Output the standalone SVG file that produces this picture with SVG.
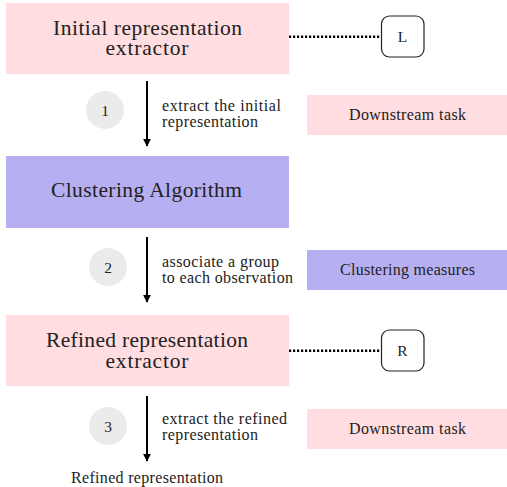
<svg xmlns="http://www.w3.org/2000/svg" width="507" height="487" viewBox="0 0 507 487">
<defs>
<style>
text{font-family:"Liberation Serif","Times New Roman",serif;fill:#222}
.big{font-size:21.5px;text-anchor:middle}
.sm{font-size:16px}
.smc{font-size:16px;text-anchor:middle}
.num{font-size:15.5px;text-anchor:middle}
.pink{fill:#ffdde0}
.purple{fill:#b6aff2}
.circ{fill:#ebebeb}
.rb{fill:#fff;stroke:#222;stroke-width:1.2}
.arrow{stroke:#000;stroke-width:2;fill:none;marker-end:url(#ah)}
.dot{stroke:#000;stroke-width:2.5;stroke-dasharray:2.2 1.8;fill:none}
</style>
<marker id="ah" viewBox="0 0 10 10" refX="9" refY="5" markerWidth="4" markerHeight="4.5" orient="auto" markerUnits="strokeWidth">
<path d="M0,0 L10,5 L0,10 z" fill="#000"/>
</marker>
</defs>
<rect width="507" height="487" fill="#fff"/>
<g id="connectors">
<line class="arrow" x1="147" y1="81" x2="147" y2="146"/>
<line class="arrow" x1="147" y1="237" x2="147" y2="302"/>
<line class="arrow" x1="147" y1="396" x2="147" y2="461"/>
<line class="dot" x1="289" y1="36.7" x2="381" y2="36.7"/>
<line class="dot" x1="289" y1="350.7" x2="381" y2="350.7"/>
</g>
<g id="initial-extractor">
<rect class="pink" x="6" y="3" width="283" height="71"/>
<text class="big" x="147.5" y="35" textLength="189" lengthAdjust="spacing">Initial representation</text>
<text class="big" x="147" y="55" textLength="83" lengthAdjust="spacing">extractor</text>
</g>
<g id="L">
<rect class="rb" x="381.5" y="16" width="42.5" height="41" rx="8"/>
<text class="num" x="402.5" y="42">L</text>
</g>
<g id="step1">
<circle class="circ" cx="105" cy="110" r="19"/>
<text class="num" x="105" y="115.5">1</text>
<text class="sm" x="162" y="111" textLength="119" lengthAdjust="spacing">extract the initial</text>
<text class="sm" x="162" y="127" textLength="96" lengthAdjust="spacing">representation</text>
</g>
<g id="downstream1">
<rect class="pink" x="307" y="95" width="200" height="40"/>
<text class="smc" x="407.5" y="120" textLength="117" lengthAdjust="spacing">Downstream task</text>
</g>
<g id="clustering-algorithm">
<rect class="purple" x="6" y="156" width="283" height="72"/>
<text class="big" x="146.5" y="197" textLength="191" lengthAdjust="spacing">Clustering Algorithm</text>
</g>
<g id="step2">
<circle class="circ" cx="108" cy="267" r="19"/>
<text class="num" x="108" y="272.5">2</text>
<text class="sm" x="162" y="267" textLength="117" lengthAdjust="spacing">associate a group</text>
<text class="sm" x="162" y="283" textLength="131" lengthAdjust="spacing">to each observation</text>
</g>
<g id="clustering-measures">
<rect class="purple" x="307" y="250" width="200" height="40"/>
<text class="smc" x="407.5" y="275" textLength="135" lengthAdjust="spacing">Clustering measures</text>
</g>
<g id="refined-extractor">
<rect class="pink" x="6" y="315" width="283" height="71"/>
<text class="big" x="147" y="347" textLength="202" lengthAdjust="spacing">Refined representation</text>
<text class="big" x="147" y="368" textLength="83" lengthAdjust="spacing">extractor</text>
</g>
<g id="R">
<rect class="rb" x="381.5" y="330" width="42.5" height="41" rx="8"/>
<text class="num" x="402.5" y="356">R</text>
</g>
<g id="step3">
<circle class="circ" cx="108" cy="426" r="19"/>
<text class="num" x="108" y="431.5">3</text>
<text class="sm" x="162" y="424" textLength="125" lengthAdjust="spacing">extract the refined</text>
<text class="sm" x="162" y="440" textLength="96" lengthAdjust="spacing">representation</text>
</g>
<g id="downstream2">
<rect class="pink" x="307" y="409" width="200" height="40"/>
<text class="smc" x="407.5" y="434" textLength="117" lengthAdjust="spacing">Downstream task</text>
</g>
<g id="refined-output">
<text class="smc" x="147" y="483" textLength="152" lengthAdjust="spacing">Refined representation</text>
</g>
</svg>
